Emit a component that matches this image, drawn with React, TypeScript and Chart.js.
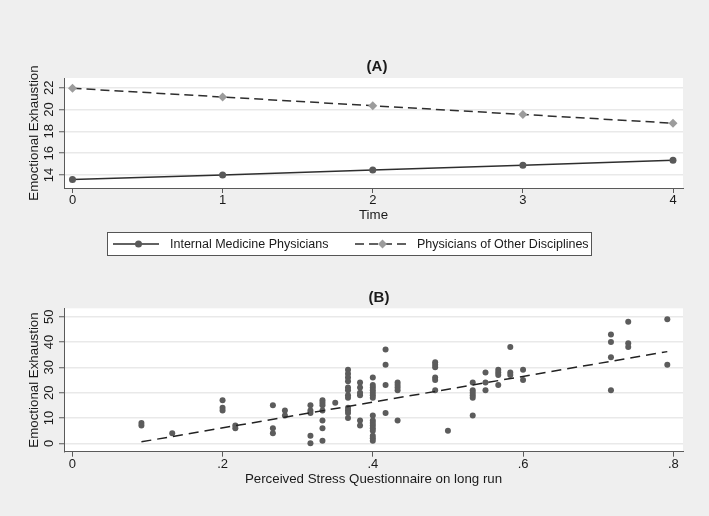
import React, { useEffect, useRef } from "react";
import { Chart, registerables } from "chart.js";

Chart.register(...registerables);

const FONT = '"Liberation Sans", Arial, Helvetica, sans-serif';
const TXT = "#1a1a1a";
const AXIS = "#5a5a5a";
const GRID = "#e9e9e9";

// ---------- Panel A data ----------
const timePoints = [0, 1, 2, 3, 4];
const internalMedicine = [13.6, 14.0, 14.45, 14.9, 15.35];
const otherDisciplines = [21.95, 21.15, 20.35, 19.55, 18.75];
const timeTicks = [0, 1, 2, 3, 4];
const exhaustionTicksA = [14, 16, 18, 20, 22];
const seriesLabels = ["Internal Medicine Physicians", "Physicians of Other Disciplines"];

// ---------- Panel B data ----------
const pssLevels = [
  0.092, 0.133, 0.2, 0.217, 0.267, 0.283, 0.317, 0.333, 0.35, 0.367, 0.383, 0.4,
  0.417, 0.433, 0.483, 0.5, 0.533, 0.55, 0.567, 0.583, 0.6, 0.717, 0.74, 0.792,
];
const eeAtLevel = [
  [8, 7],
  [4],
  [17, 14, 13],
  [7, 6],
  [15, 6, 4],
  [13, 11],
  [15, 13, 12, 3, 0],
  [17, 16, 15, 13, 9, 6, 1],
  [16],
  [29, 27.5, 26, 24.5, 22, 21, 19, 18, 14, 13, 12, 10],
  [24, 22, 20, 19, 9, 7],
  [26, 23, 22, 21, 20, 19, 18, 11, 9, 8, 7, 6, 5, 3, 2, 1],
  [37, 31, 23, 12],
  [24, 23, 22, 21, 9],
  [32, 31, 30, 26, 25, 21],
  [5],
  [24, 21, 20, 19, 18, 11],
  [28, 24, 21],
  [29, 28, 27, 23],
  [38, 28, 27],
  [29, 25],
  [43, 40, 34, 21],
  [48, 39.5, 38],
  [49, 31],
];
const fitX = [0.092, 0.792];
const fitY = [0.6, 36.2];
const pssTicks = [0, 0.2, 0.4, 0.6, 0.8];
const pssTickLabels = ["0", ".2", ".4", ".6", ".8"];
const exhaustionTicksB = [0, 10, 20, 30, 40, 50];

// ---------- plugins ----------
const plotBg = {
  id: "plotBg",
  beforeDraw(chart: any) {
    const { ctx, chartArea: a } = chart;
    ctx.save();
    ctx.fillStyle = "#ffffff";
    ctx.fillRect(a.left, a.top, a.right - a.left, a.bottom - a.top);
    ctx.restore();
  },
};

const panelTitle = {
  id: "panelTitle",
  afterDraw(chart: any, _args: any, opts: any) {
    const { ctx, chartArea: a } = chart;
    ctx.save();
    ctx.font = `bold 15px ${FONT}`;
    ctx.fillStyle = TXT;
    ctx.textAlign = "center";
    ctx.textBaseline = "middle";
    ctx.fillText(opts.text, (a.left + a.right) / 2 + (opts.dx || 0), opts.y);
    ctx.restore();
  },
};

const boxLegend = {
  id: "boxLegend",
  afterDraw(chart: any, _args: any, opts: any) {
    if (!opts || !opts.items) return;
    const { ctx } = chart;
    const b = opts.box;
    ctx.save();
    ctx.fillStyle = "#ffffff";
    ctx.fillRect(b.x, b.y, b.w, b.h);
    ctx.strokeStyle = "#555555";
    ctx.lineWidth = 1;
    ctx.strokeRect(b.x + 0.5, b.y + 0.5, b.w - 1, b.h - 1);
    const cy = b.y + b.h / 2;
    opts.items.forEach((it: any, i: number) => {
      const ds = chart.data.datasets[i];
      ctx.save();
      ctx.strokeStyle = ds.borderColor;
      ctx.lineWidth = ds.borderWidth;
      ctx.setLineDash(ds.borderDash || []);
      ctx.beginPath();
      ctx.moveTo(it.x1, cy);
      ctx.lineTo(it.x2, cy);
      ctx.stroke();
      ctx.setLineDash([]);
      ctx.fillStyle = ds.pointBackgroundColor;
      const r = ds.pointRadius;
      ctx.beginPath();
      if (ds.pointStyle === "rectRot") {
        ctx.moveTo(it.mx, cy - r);
        ctx.lineTo(it.mx + r, cy);
        ctx.lineTo(it.mx, cy + r);
        ctx.lineTo(it.mx - r, cy);
        ctx.closePath();
      } else {
        ctx.arc(it.mx, cy, r, 0, Math.PI * 2);
      }
      ctx.fill();
      ctx.restore();
      ctx.font = `12.5px ${FONT}`;
      ctx.fillStyle = TXT;
      ctx.textAlign = "left";
      ctx.textBaseline = "middle";
      ctx.fillText(ds.label, it.tx, cy + 0.5);
    });
    ctx.restore();
  },
};

function xAxis(min: number, max: number, ticks: number[], labels: string[] | null, title: string, h: number, titlePad: number) {
  return {
    type: "linear",
    min,
    max,
    afterBuildTicks: (s: any) => {
      s.ticks = ticks.map((v) => ({ value: v }));
    },
    afterFit: (s: any) => {
      s.height = h;
    },
    grid: { drawOnChartArea: false, drawTicks: true, tickLength: 5, tickColor: AXIS, tickWidth: 1 },
    border: { display: true, color: AXIS, width: 1 },
    ticks: {
      padding: 0,
      color: TXT,
      font: { family: FONT, size: 13 },
      maxRotation: 0,
      minRotation: 0,
      autoSkip: false,
      callback: (v: number) => {
        const i = ticks.indexOf(v);
        return labels && i >= 0 ? labels[i] : String(v);
      },
    },
    title: { display: true, text: title, color: TXT, font: { family: FONT, size: 13.3 }, padding: { top: 0, bottom: titlePad } },
  };
}

function yAxis(min: number, max: number, ticks: number[], title: string) {
  return {
    type: "linear",
    min,
    max,
    afterBuildTicks: (s: any) => {
      s.ticks = ticks.map((v) => ({ value: v }));
    },
    afterFit: (s: any) => {
      s.width = 64;
    },
    grid: { color: GRID, lineWidth: 1.5, drawTicks: true, tickLength: 5, tickColor: AXIS, tickWidth: 1 },
    border: { display: true, color: AXIS, width: 1 },
    ticks: {
      padding: 2,
      color: TXT,
      font: { family: FONT, size: 13 },
      minRotation: 90,
      maxRotation: 90,
      crossAlign: "center",
      autoSkip: false,
      callback: (v: number) => String(v),
    },
    title: { display: true, text: title, color: TXT, font: { family: FONT, size: 13.3 }, padding: { top: 26, bottom: 0 } },
  };
}

function PanelA() {
  const ref = useRef<HTMLCanvasElement | null>(null);
  useEffect(() => {
    if (!ref.current) return;
    const chart = new Chart(ref.current, {
      type: "line",
      data: {
        datasets: [
          {
            label: seriesLabels[0],
            data: timePoints.map((t, i) => ({ x: t, y: internalMedicine[i] })),
            borderColor: "#2e2e2e",
            borderWidth: 1.5,
            pointStyle: "circle",
            pointRadius: 3.5,
            pointBackgroundColor: "#595959",
            pointBorderWidth: 0,
          },
          {
            label: seriesLabels[1],
            data: timePoints.map((t, i) => ({ x: t, y: otherDisciplines[i] })),
            borderColor: "#2e2e2e",
            borderWidth: 1.5,
            borderDash: [9, 5],
            pointStyle: "rectRot",
            pointRadius: 4.5,
            pointBackgroundColor: "#9c9c9c",
            pointBorderWidth: 0,
          },
        ],
      } as any,
      options: {
        responsive: false,
        animation: false,
        devicePixelRatio: 1,
        layout: { padding: { left: 0, right: 26, top: 78, bottom: 40 } },
        scales: {
          x: xAxis(-0.0566, 4.0666, timeTicks, null, "Time", 42, 6.9),
          y: yAxis(12.81, 22.89, exhaustionTicksA, "Emoctional Exhaustion"),
        } as any,
        plugins: {
          legend: { display: false },
          tooltip: { enabled: false },
          panelTitle: { text: "(A)", dx: 3.5, y: 67 },
          boxLegend: {
            box: { x: 107, y: 232, w: 485, h: 24 },
            items: [
              { x1: 113, x2: 159, mx: 138.5, tx: 170 },
              { x1: 355, x2: 411, mx: 382.5, tx: 417 },
            ],
          },
        } as any,
      },
      plugins: [plotBg, panelTitle, boxLegend],
    });
    return () => chart.destroy();
  }, []);
  return <canvas ref={ref} width={709} height={270} style={{ position: "absolute", left: 0, top: 0, width: 709, height: 270 }} />;
}

function PanelB() {
  const ref = useRef<HTMLCanvasElement | null>(null);
  useEffect(() => {
    if (!ref.current) return;
    const pts: { x: number; y: number }[] = [];
    pssLevels.forEach((x, i) => eeAtLevel[i].forEach((y) => pts.push({ x, y })));
    const chart = new Chart(ref.current, {
      type: "scatter",
      data: {
        datasets: [
          {
            label: "Fitted values",
            data: fitX.map((x, i) => ({ x, y: fitY[i] })),
            showLine: true,
            borderColor: "#222222",
            borderWidth: 1.5,
            borderDash: [10, 6],
            pointRadius: 0,
          },
          {
            label: "Emoctional Exhaustion",
            data: pts,
            pointRadius: 3,
            pointBackgroundColor: "#5c5c5c",
            pointBorderWidth: 0,
            showLine: false,
          },
        ],
      } as any,
      options: {
        responsive: false,
        animation: false,
        devicePixelRatio: 1,
        layout: { padding: { left: 0, right: 26, top: 38.3, bottom: 24.3 } },
        scales: {
          x: xAxis(-0.01105, 0.8129, pssTicks, pssTickLabels, "Perceived Stress Questionnaire on long run", 40, 4.6),
          y: yAxis(-3.3, 53.3, exhaustionTicksB, "Emoctional Exhaustion"),
        } as any,
        plugins: {
          legend: { display: false },
          tooltip: { enabled: false },
          panelTitle: { text: "(B)", dx: 5.5, y: 27.5 },
        } as any,
      },
      plugins: [plotBg, panelTitle],
    });
    return () => chart.destroy();
  }, []);
  return <canvas ref={ref} width={709} height={246} style={{ position: "absolute", left: 0, top: 270, width: 709, height: 246 }} />;
}

export default function App() {
  return (
    <div style={{ position: "fixed", left: 0, top: 0, width: 709, height: 516, background: "#efefef", overflow: "hidden" }}>
      <PanelA />
      <PanelB />
    </div>
  );
}
